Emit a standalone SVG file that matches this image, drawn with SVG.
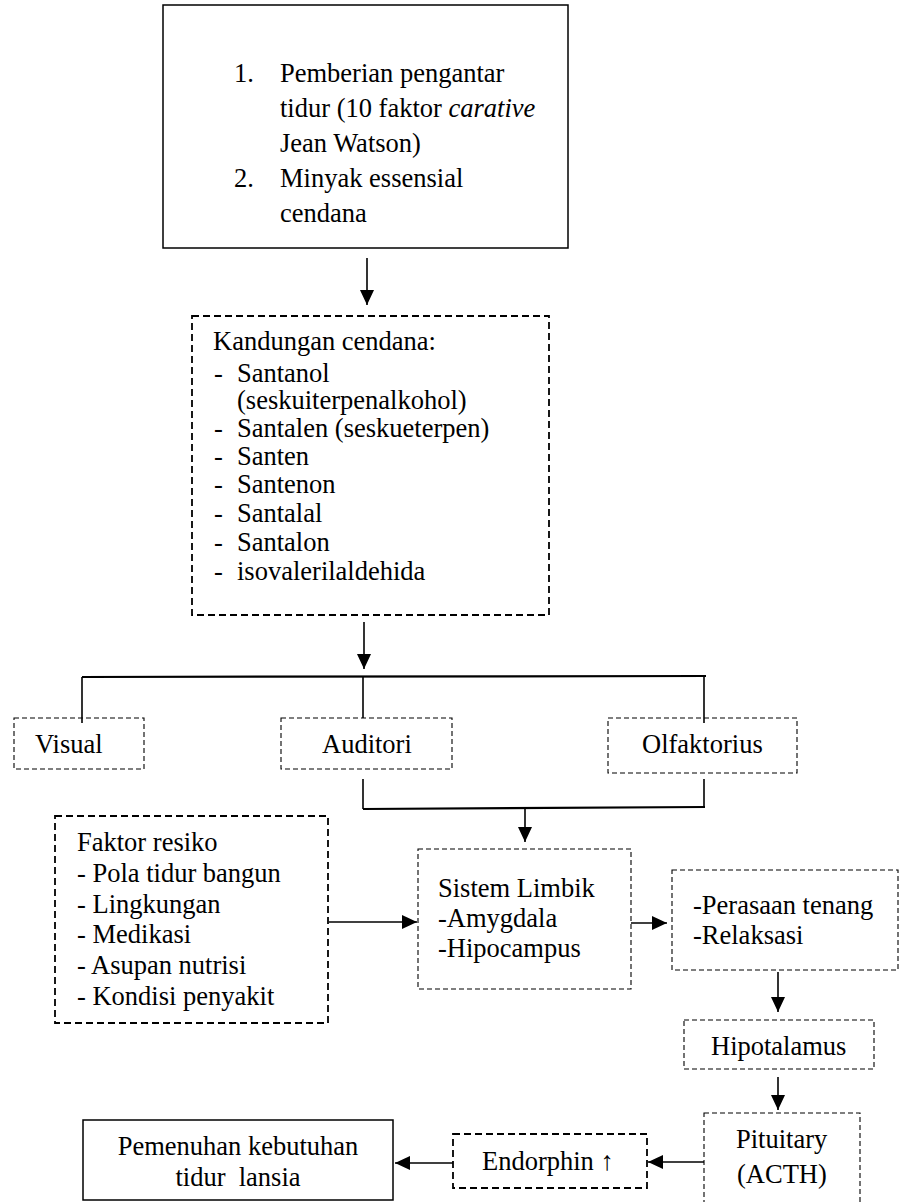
<svg xmlns="http://www.w3.org/2000/svg" width="899" height="1202" viewBox="0 0 899 1202">
  <style>
    .t { font-family: "Liberation Serif", "Times New Roman", serif; font-size: 26.5px; fill: #000; }
    .solid { fill: #fff; stroke: #000; stroke-width: 1.5; }
    .dashA { fill: #fff; stroke: #000; stroke-width: 1.8; stroke-dasharray: 7 4; }
    .dashB { fill: #fff; stroke: #000; stroke-width: 1.1; stroke-dasharray: 5 3; }
    .conn { fill: none; stroke: #000; stroke-width: 1.6; }
    .bus { fill: none; stroke: #000; stroke-width: 2.2; }
  </style>
  <defs>
    <marker id="arrow" markerUnits="userSpaceOnUse" markerWidth="15" markerHeight="14" refX="15" refY="7" orient="auto">
      <path d="M0,0 L15,7 L0,14 Z" fill="#000"/>
    </marker>
  </defs>
  <rect width="899" height="1202" fill="#fff"/>

  <g id="intervensi">
    <rect class="solid" x="163" y="5" width="405" height="243"/>
    <text class="t" x="234" y="82">1.</text>
    <text class="t" x="280" y="82">Pemberian pengantar</text>
    <text class="t" x="280" y="117">tidur (10 faktor <tspan font-style="italic">carative</tspan></text>
    <text class="t" x="280" y="152">Jean Watson)</text>
    <text class="t" x="234" y="187">2.</text>
    <text class="t" x="280" y="187">Minyak essensial</text>
    <text class="t" x="280" y="222">cendana</text>
  </g>

  <g id="kandungan">
    <rect class="dashA" x="192" y="316" width="357" height="299"/>
    <text class="t" x="213" y="350">Kandungan cendana:</text>
    <text class="t" x="214" y="382">-</text><text class="t" x="237" y="382">Santanol</text>
    <text class="t" x="237" y="409">(seskuiterpenalkohol)</text>
    <text class="t" x="214" y="437">-</text><text class="t" x="237" y="437">Santalen (seskueterpen)</text>
    <text class="t" x="214" y="465">-</text><text class="t" x="237" y="465">Santen</text>
    <text class="t" x="214" y="493">-</text><text class="t" x="237" y="493">Santenon</text>
    <text class="t" x="214" y="522">-</text><text class="t" x="237" y="522">Santalal</text>
    <text class="t" x="214" y="551">-</text><text class="t" x="237" y="551">Santalon</text>
    <text class="t" x="214" y="580">-</text><text class="t" x="237" y="580">isovalerilaldehida</text>
  </g>

  <g id="visual">
    <rect class="dashB" x="14" y="718" width="130" height="51"/>
    <text class="t" x="35" y="753">Visual</text>
  </g>
  <g id="auditori">
    <rect class="dashB" x="281" y="718" width="171" height="51"/>
    <text class="t" x="322" y="753">Auditori</text>
  </g>
  <g id="olfaktorius">
    <rect class="dashB" x="608" y="718" width="189" height="55"/>
    <text class="t" x="642" y="753">Olfaktorius</text>
  </g>

  <g id="faktor-resiko">
    <rect class="dashA" x="55" y="816" width="273" height="207"/>
    <text class="t" x="77" y="851">Faktor resiko</text>
    <text class="t" x="77" y="882">- Pola tidur bangun</text>
    <text class="t" x="77" y="913">- Lingkungan</text>
    <text class="t" x="77" y="943">- Medikasi</text>
    <text class="t" x="77" y="974">- Asupan nutrisi</text>
    <text class="t" x="77" y="1005">- Kondisi penyakit</text>
  </g>

  <g id="sistem-limbik">
    <rect class="dashB" x="418" y="849" width="213" height="140"/>
    <text class="t" x="438" y="897">Sistem Limbik</text>
    <text class="t" x="438" y="927">-Amygdala</text>
    <text class="t" x="438" y="957">-Hipocampus</text>
  </g>

  <g id="perasaan">
    <rect class="dashB" x="672" y="870" width="226" height="100"/>
    <text class="t" x="693" y="914">-Perasaan tenang</text>
    <text class="t" x="693" y="944">-Relaksasi</text>
  </g>

  <g id="hipotalamus">
    <rect class="dashB" x="684" y="1020" width="190" height="49"/>
    <text class="t" x="711" y="1055">Hipotalamus</text>
  </g>

  <g id="pituitary">
    <rect class="dashB" x="704" y="1113" width="156" height="110"/>
    <text class="t" x="736" y="1148">Pituitary</text>
    <text class="t" x="737" y="1183">(ACTH)</text>
  </g>

  <g id="endorphin">
    <rect class="dashA" x="453" y="1134" width="194" height="54"/>
    <text class="t" x="482" y="1170">Endorphin ↑</text>
  </g>

  <g id="pemenuhan">
    <rect class="solid" x="83" y="1120" width="310" height="80"/>
    <text class="t" x="238" y="1155" text-anchor="middle">Pemenuhan kebutuhan</text>
    <text class="t" x="238" y="1186" text-anchor="middle" xml:space="preserve">tidur  lansia</text>
  </g>

  <g id="connectors">
    <line class="conn" x1="367" y1="258" x2="367" y2="305" marker-end="url(#arrow)"/>
    <line class="conn" x1="364" y1="622" x2="364" y2="669" marker-end="url(#arrow)"/>
    <line class="bus" x1="82" y1="677" x2="706" y2="676"/>
    <line class="conn" x1="82" y1="677" x2="82" y2="723"/>
    <line class="conn" x1="363" y1="677" x2="363" y2="718"/>
    <line class="conn" x1="704" y1="676" x2="704" y2="723"/>
    <line class="conn" x1="363" y1="779" x2="363" y2="809"/>
    <line class="conn" x1="704" y1="779" x2="704" y2="808"/>
    <line class="bus" x1="363" y1="809" x2="705" y2="807"/>
    <line class="conn" x1="525" y1="808" x2="525" y2="842" marker-end="url(#arrow)"/>
    <line class="conn" x1="329" y1="922" x2="417" y2="922" marker-end="url(#arrow)"/>
    <line class="conn" x1="631" y1="923" x2="667" y2="923" marker-end="url(#arrow)"/>
    <line class="conn" x1="778" y1="972" x2="778" y2="1012" marker-end="url(#arrow)"/>
    <line class="conn" x1="778" y1="1077" x2="778" y2="1110" marker-end="url(#arrow)"/>
    <line class="conn" x1="704" y1="1162" x2="648" y2="1162" marker-end="url(#arrow)"/>
    <line class="conn" x1="453" y1="1163" x2="395" y2="1163" marker-end="url(#arrow)"/>
  </g>
</svg>
